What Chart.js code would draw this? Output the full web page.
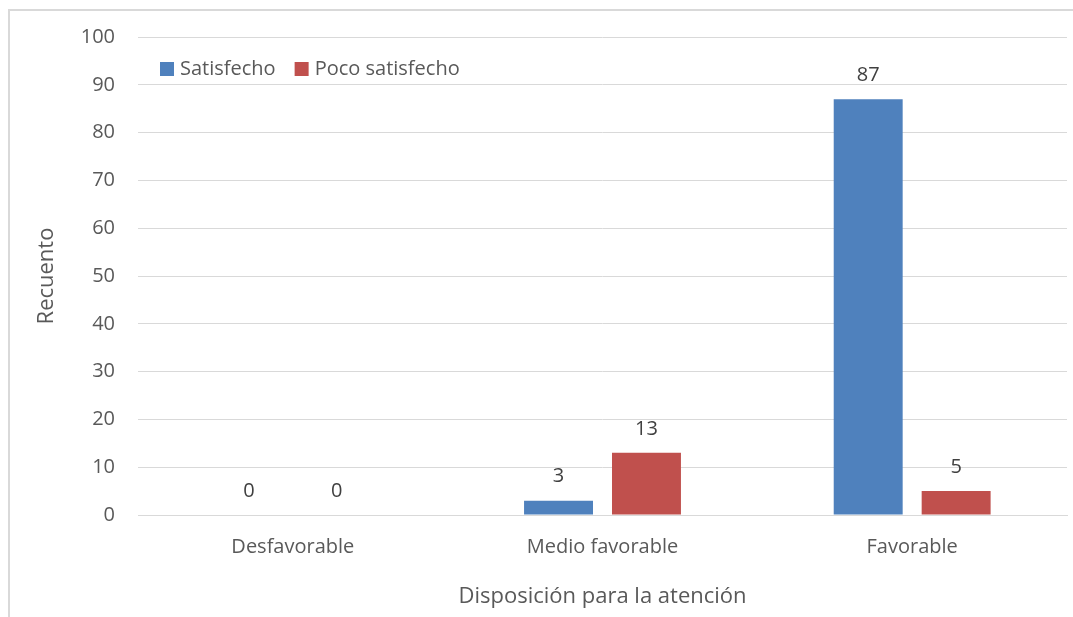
<!DOCTYPE html>
<html>
<head>
<meta charset="utf-8">
<script src="https://cdn.jsdelivr.net/npm/chart.js@4/dist/chart.umd.min.js"></script>
<style>
  html, body { margin: 0; padding: 0; background: #fff; overflow: hidden; }
  #frame { position: absolute; left: 8px; top: 9px; width: 1100px; height: 650px; border: 2px solid #d9d9d9; box-sizing: border-box; }
  #chart { position: absolute; left: 0; top: 0; }
</style>
</head>
<body>
<div id="frame"></div>
<canvas id="chart" width="1073" height="617"></canvas>
<script>
// categorias y series
const categorias = ['Desfavorable', 'Medio favorable', 'Favorable'];
const satisfecho = [0, 3, 87];
const pocoSatisfecho = [0, 13, 5];
const ticksY = [0, 10, 20, 30, 40, 50, 60, 70, 80, 90, 100];

const gris = '#595959';
const fuente = '"Open Sans", "Liberation Sans", sans-serif';

// etiquetas de valor encima de cada barra
const etiquetas = {
    id: 'etiquetas',
    afterDatasetsDraw(chart) {
        const ctx = chart.ctx;
        ctx.save();
        ctx.font = '20px ' + fuente;
        ctx.fillStyle = '#404040';
        ctx.textAlign = 'center';
        ctx.textBaseline = 'middle';
        chart.data.datasets.forEach((ds, i) => {
            chart.getDatasetMeta(i).data.forEach((bar, j) => {
                ctx.fillText(ds.data[j], bar.x, bar.y - 24);
            });
        });
        ctx.restore();
    }
};

// leyenda horizontal dentro del area del grafico
const leyenda = {
    id: 'leyenda',
    afterDraw(chart) {
        const ctx = chart.ctx;
        const area = chart.chartArea;
        let x = area.left + 22;
        const y = area.top + 32;
        ctx.save();
        ctx.font = '20px ' + fuente;
        ctx.textBaseline = 'middle';
        ctx.textAlign = 'left';
        chart.data.datasets.forEach(ds => {
            ctx.fillStyle = ds.backgroundColor;
            ctx.fillRect(x, y - 7, 14, 14);
            x += 20;
            ctx.fillStyle = gris;
            ctx.fillText(ds.label, x, y);
            x += ctx.measureText(ds.label).width + 19;
        });
        ctx.restore();
    }
};

new Chart(document.getElementById('chart'), {
    type: 'bar',
    data: {
        labels: categorias,
        datasets: [{
            label: 'Satisfecho',
            data: satisfecho,
            backgroundColor: '#4f81bd',
            borderWidth: 0,
            categoryPercentage: 0.568,
            barPercentage: 0.784
        }, {
            label: 'Poco satisfecho',
            data: pocoSatisfecho,
            backgroundColor: '#c0504d',
            borderWidth: 0,
            categoryPercentage: 0.568,
            barPercentage: 0.784
        }]
    },
    options: {
        responsive: false,
        devicePixelRatio: 1,
        animation: false,
        layout: { padding: { left: 8, top: 37, right: 6, bottom: 0 } },
        plugins: {
            tooltip: { enabled: false },
            legend: { display: false }
        },
        scales: {
            x: {
                grid: { display: false, drawTicks: false },
                border: { color: '#d9d9d9' },
                ticks: { color: gris, padding: 20, font: { family: fuente, size: 20 } },
                title: {
                    display: true,
                    text: 'Disposición para la atención',
                    color: gris,
                    font: { family: fuente, size: 22 },
                    padding: { top: 7, bottom: 7 }
                },
                afterFit(s) { s.height = 102; }
            },
            y: {
                min: 0,
                max: 100,
                afterBuildTicks(s) { s.ticks = ticksY.map(v => ({ value: v })); },
                grid: { color: '#d9d9d9', lineWidth: 1, drawTicks: false },
                border: { display: false },
                ticks: { color: gris, padding: 23, font: { family: fuente, size: 20 } },
                title: {
                    display: true,
                    text: 'Recuento',
                    color: gris,
                    font: { family: fuente, size: 22 },
                    padding: { top: 26, bottom: 26 }
                },
                afterFit(s) { s.width = 130; }
            }
        }
    },
    plugins: [etiquetas, leyenda]
});
</script>
</body>
</html>
